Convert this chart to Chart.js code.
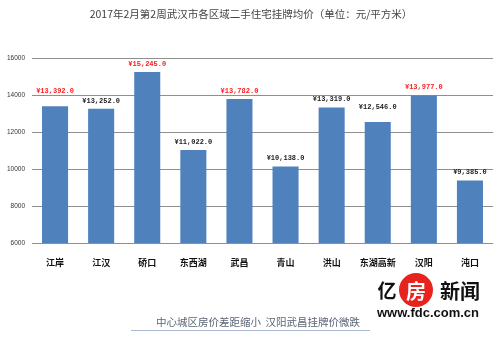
<!DOCTYPE html>
<html>
<head>
<meta charset="utf-8">
<script src="https://cdn.jsdelivr.net/npm/chart.js@4"></script>
<style>
  html, body { margin: 0; padding: 0; background: #fff; }
  #wrap { width: 499px; height: 337px; position: relative; }
</style>
</head>
<body>
<div id="wrap"><canvas id="chart"></canvas></div>
<script>
// districts and average listing price (yuan / sq m)
const districts = ["江岸", "江汉", "硚口", "东西湖", "武昌", "青山", "洪山", "东湖高新", "汉阳", "沌口"];
const prices = [13392, 13252, 15245, 11022, 13782, 10138, 13319, 12546, 13977, 9385];
// districts whose label is shown in red
const highlighted = ["江岸", "硚口", "武昌", "汉阳"];
const yTicks = [6000, 8000, 10000, 12000, 14000, 16000];

const titleText = "2017年2月第2周武汉市各区域二手住宅挂牌均价（单位：元/平方米）";
const footText = "中心城区房价差距缩小  汉阳武昌挂牌价微跌";

// some labels sit a bit higher than the rest
const labelLift = { "江岸": 7, "东湖高新": 7 };

function fmtPrice(v) {
  return "¥" + v.toLocaleString("en-US") + ".0";
}

const decor = {
  id: "decor",
  afterDatasetsDraw(chart) {
    const ctx = chart.ctx;
    const meta = chart.getDatasetMeta(0);
    ctx.save();
    // value labels
    ctx.font = "bold 7px 'Liberation Mono', monospace";
    ctx.textAlign = "center";
    ctx.textBaseline = "middle";
    meta.data.forEach((bar, i) => {
      const name = districts[i];
      ctx.fillStyle = highlighted.includes(name) ? "#ff1a1a" : "#222";
      ctx.fillText(fmtPrice(prices[i]), bar.x, bar.y - 8 - (labelLift[name] || 0));
    });

    // title
    ctx.fillStyle = "#444";
    ctx.font = "10.5px 'Noto Sans CJK SC', sans-serif";
    ctx.fillText(titleText, 251, 14);

    // footer caption with underline
    ctx.fillStyle = "#5b6678";
    ctx.font = "10.5px 'Noto Sans CJK SC', sans-serif";
    ctx.fillText(footText, 258, 322);
    ctx.strokeStyle = "#aab8d0";
    ctx.lineWidth = 1;
    ctx.beginPath();
    ctx.moveTo(131, 330.5);
    ctx.lineTo(370, 330.5);
    ctx.stroke();

    // site logo
    ctx.fillStyle = "#111";
    ctx.font = "bold 19px 'Noto Sans CJK SC', sans-serif";
    ctx.fillText("亿", 387, 291);
    ctx.fillStyle = "#e8231e";
    ctx.beginPath();
    ctx.arc(416, 290, 17, 0, Math.PI * 2);
    ctx.fill();
    ctx.fillStyle = "#fff";
    ctx.font = "bold 20px 'Noto Sans CJK SC', sans-serif";
    ctx.fillText("房", 416, 291);
    ctx.fillStyle = "#111";
    ctx.font = "bold 20px 'Noto Sans CJK SC', sans-serif";
    ctx.fillText("新闻", 460, 291);
    ctx.font = "bold 13px 'Liberation Sans', sans-serif";
    ctx.fillText("www.fdc.com.cn", 428, 313);
    ctx.restore();
  }
};

new Chart(document.getElementById("chart"), {
  type: "bar",
  data: {
    labels: districts,
    datasets: [{
      data: prices,
      backgroundColor: "#4f81bd",
      categoryPercentage: 1,
      barPercentage: 0.565
    }]
  },
  options: {
    responsive: true,
    maintainAspectRatio: false,
    animation: false,
    events: [],
    layout: { padding: { top: 58, right: 6, left: 0, bottom: 0 } },
    plugins: {
      legend: { display: false },
      tooltip: { enabled: false },
      title: { display: false }
    },
    scales: {
      x: {
        grid: { display: false },
        border: { display: false },
        ticks: {
          color: "#111",
          padding: 6,
          font: { family: "'Noto Sans CJK SC', sans-serif", size: 9, weight: "bold" }
        },
        afterFit(scale) { scale.height = 94; }
      },
      y: {
        min: 6000,
        max: 16000,
        afterBuildTicks(scale) { scale.ticks = yTicks.map(v => ({ value: v })); },
        grid: { color: "#8f8f8f", lineWidth: 1, drawTicks: false },
        border: { display: false },
        ticks: {
          color: "#333",
          padding: 7,
          callback: v => String(v),
          font: { family: "'Liberation Sans', sans-serif", size: 6.5 }
        },
        afterFit(scale) { scale.width = 32; }
      }
    }
  },
  plugins: [decor]
});
</script>
</body>
</html>
